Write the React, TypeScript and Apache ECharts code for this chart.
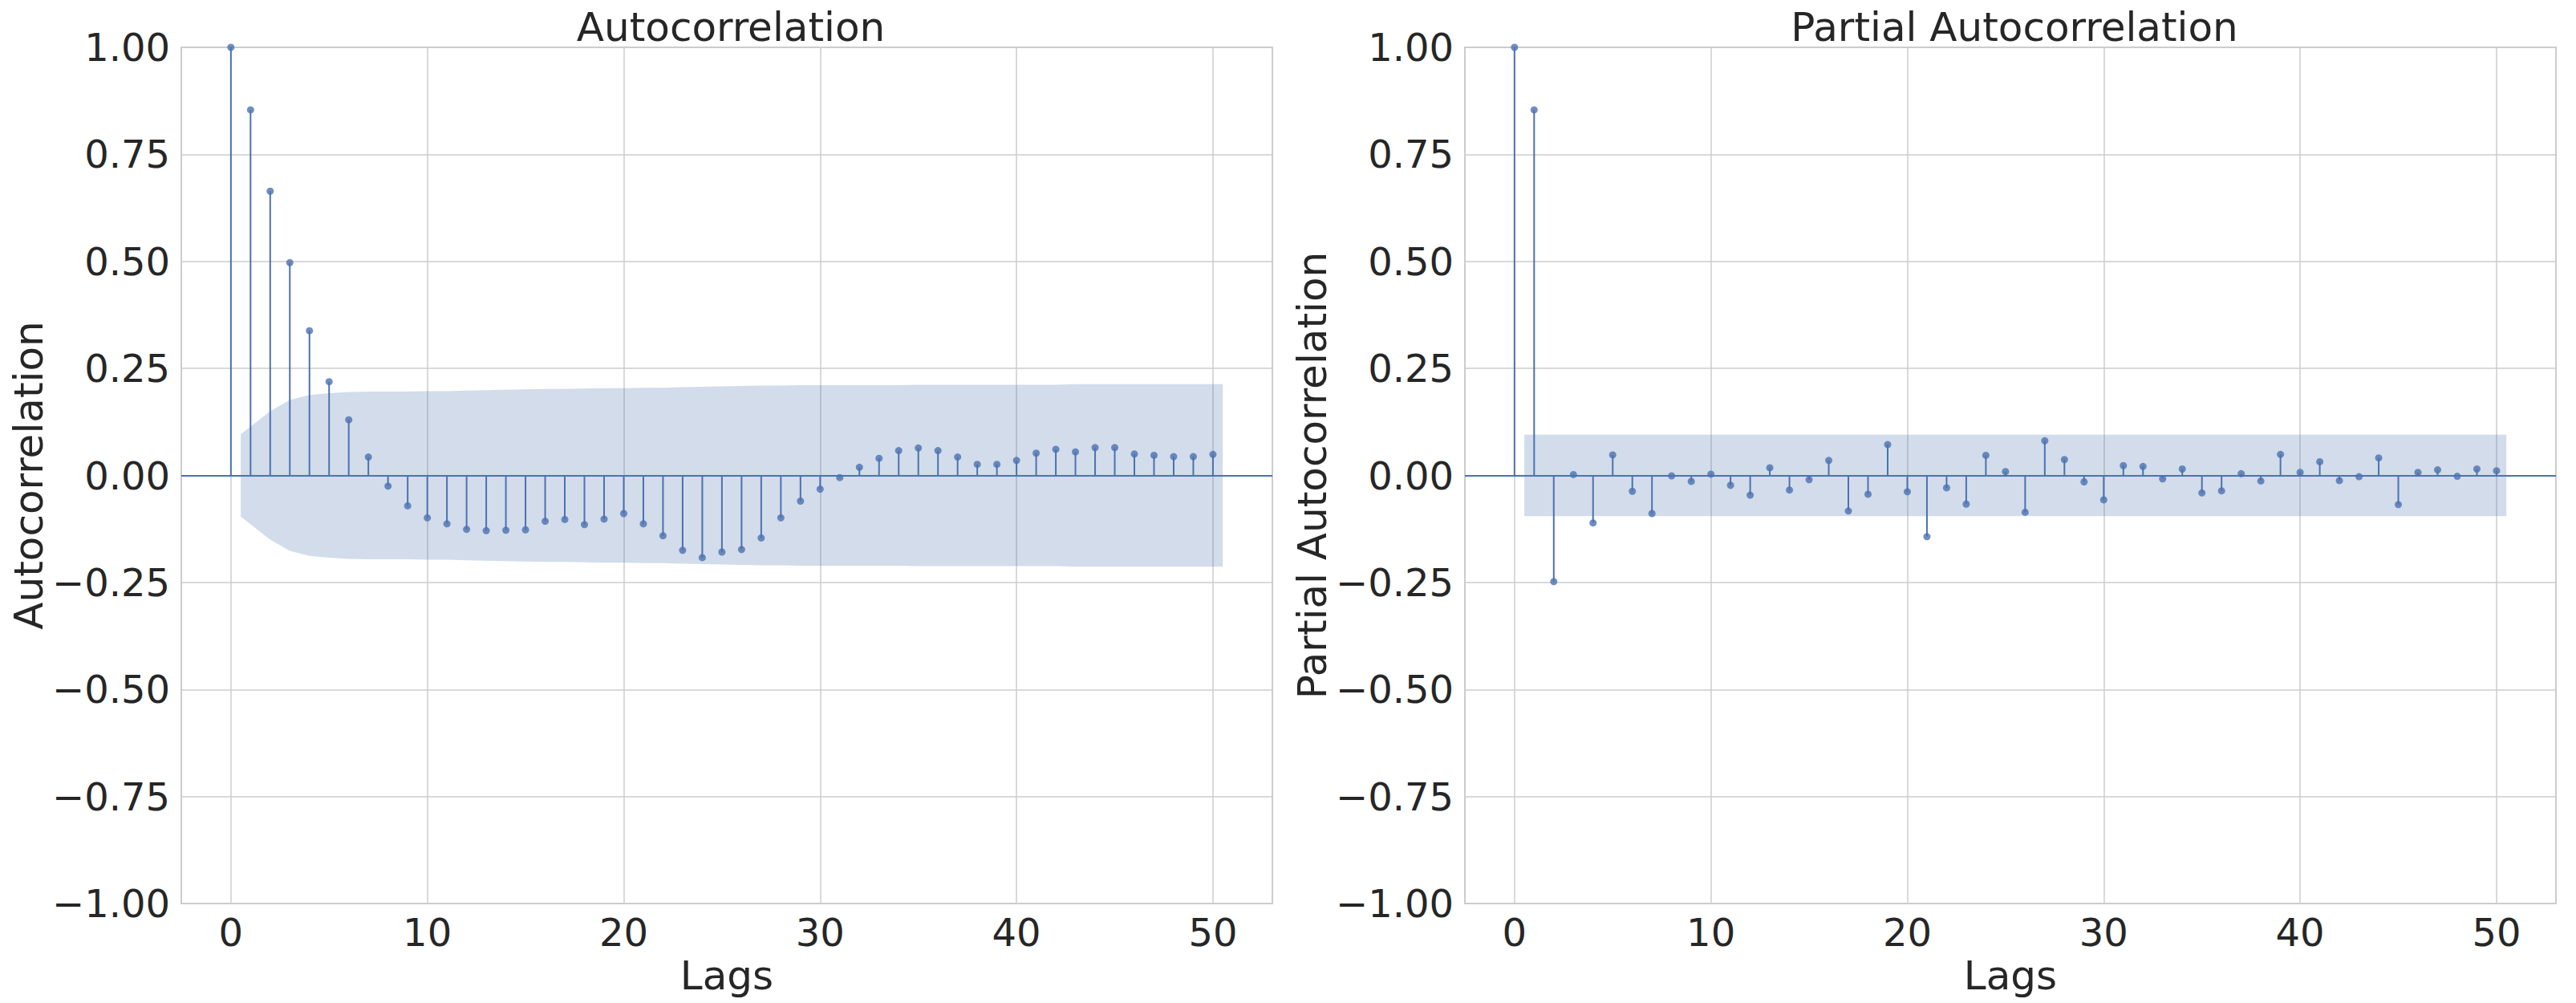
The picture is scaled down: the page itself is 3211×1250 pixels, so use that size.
import React, { useEffect, useRef } from "react";
import * as echarts from "echarts";

// ---- data ----
const lags = [0, 1, 2, 3, 4, 5, 6, 7, 8, 9, 10, 11, 12, 13, 14, 15, 16, 17, 18, 19, 20, 21, 22, 23, 24, 25, 26, 27, 28, 29, 30, 31, 32, 33, 34, 35, 36, 37, 38, 39, 40, 41, 42, 43, 44, 45, 46, 47, 48, 49, 50];

const acfValues = [1.0, 0.854, 0.664, 0.497, 0.338, 0.219, 0.130, 0.043, -0.025, -0.071, -0.099, -0.113, -0.126, -0.129, -0.128, -0.127, -0.107, -0.103, -0.115, -0.102, -0.089, -0.113, -0.141, -0.175, -0.192, -0.179, -0.173, -0.146, -0.099, -0.060, -0.032, -0.005, 0.019, 0.040, 0.058, 0.064, 0.058, 0.043, 0.026, 0.026, 0.035, 0.052, 0.061, 0.055, 0.065, 0.065, 0.050, 0.047, 0.044, 0.044, 0.049];

const pacfValues = [1.0, 0.854, -0.248, 0.002, -0.111, 0.048, -0.037, -0.089, -0.001, -0.014, 0.003, -0.023, -0.046, 0.018, -0.034, -0.010, 0.035, -0.083, -0.044, 0.072, -0.038, -0.143, -0.029, -0.067, 0.047, 0.009, -0.086, 0.081, 0.037, -0.015, -0.057, 0.023, 0.021, -0.008, 0.015, -0.041, -0.036, 0.004, -0.013, 0.049, 0.007, 0.032, -0.012, -0.003, 0.041, -0.068, 0.007, 0.013, -0.002, 0.015, 0.011];

// half-width of the 95% confidence band for lags 1..50
const acfConf = [0.096, 0.150, 0.176, 0.188, 0.192, 0.195, 0.196, 0.196, 0.196, 0.197, 0.197, 0.198, 0.199, 0.200, 0.201, 0.202, 0.202, 0.203, 0.204, 0.204, 0.205, 0.205, 0.206, 0.207, 0.208, 0.209, 0.210, 0.210, 0.211, 0.211, 0.211, 0.211, 0.211, 0.211, 0.212, 0.212, 0.212, 0.212, 0.212, 0.212, 0.212, 0.212, 0.213, 0.213, 0.213, 0.213, 0.213, 0.213, 0.213, 0.213];

const pacfConf = [0.095, 0.095, 0.095, 0.095, 0.095, 0.095, 0.095, 0.095, 0.095, 0.095, 0.095, 0.095, 0.095, 0.095, 0.095, 0.095, 0.095, 0.095, 0.095, 0.095, 0.095, 0.095, 0.095, 0.095, 0.095, 0.095, 0.095, 0.095, 0.095, 0.095, 0.095, 0.095, 0.095, 0.095, 0.095, 0.095, 0.095, 0.095, 0.095, 0.095, 0.095, 0.095, 0.095, 0.095, 0.095, 0.095, 0.095, 0.095, 0.095, 0.095];

const titles = ["Autocorrelation", "Partial Autocorrelation"];
const yNames = ["Autocorrelation", "Partial Autocorrelation"];
const xName = "Lags";
const yTicks = [-1, -0.75, -0.5, -0.25, 0, 0.25, 0.5, 0.75, 1];
const xTicks = [0, 10, 20, 30, 40, 50];

// ---- styles ----
const BLUE = "#4C72B0";
const BAND = "rgba(76,114,176,0.25)";
const GRIDC = "#cccccc";
const TEXT = "#262626";
const FONT = "DejaVu Sans";

const GRIDS = [
  { left: 226, top: 59, width: 1360, height: 1067 },
  { left: 1826, top: 59, width: 1360, height: 1067 },
];

function bandX(): number[] {
  const inner = lags.slice(1);
  return inner.map((l, i) => (i === 0 ? l - 0.5 : i === inner.length - 1 ? l + 0.5 : l));
}

function panelSeries(idx: number, values: number[], conf: number[]) {
  const bx = bandX();
  const base = { xAxisIndex: idx, yAxisIndex: idx };
  const pts = lags.map((l, i) => [l, values[i]]);
  return [
    {
      ...base,
      type: "line",
      data: bx.map((x, i) => [x, conf[i]]),
      symbol: "none",
      lineStyle: { width: 0, opacity: 0 },
      areaStyle: { color: BAND, opacity: 1 },
      silent: true,
      z: 1,
    },
    {
      ...base,
      type: "line",
      data: bx.map((x, i) => [x, -conf[i]]),
      symbol: "none",
      lineStyle: { width: 0, opacity: 0 },
      areaStyle: { color: BAND, opacity: 1 },
      silent: true,
      z: 1,
    },
    {
      ...base,
      type: "custom",
      data: pts,
      encode: { x: 0, y: 1 },
      z: 3,
      silent: true,
      renderItem: (params: any, api: any) => {
        const x = api.value(0);
        const p0 = api.coord([x, 0]);
        const p1 = api.coord([x, api.value(1)]);
        return {
          type: "line",
          shape: { x1: p0[0], y1: p0[1], x2: p1[0], y2: p1[1] },
          style: { stroke: BLUE, lineWidth: 2 },
        };
      },
      markLine: {
        silent: true,
        symbol: ["none", "none"],
        label: { show: false },
        lineStyle: { color: BLUE, width: 2, type: "solid" },
        data: [{ yAxis: 0 }],
        z: 4,
      },
    },
    {
      ...base,
      type: "scatter",
      data: pts,
      symbol: "circle",
      symbolSize: 9,
      itemStyle: { color: BLUE },
      silent: true,
      z: 5,
    },
  ];
}

function axisLabelStyle() {
  return { fontSize: 48, color: TEXT, fontFamily: FONT };
}

export default function App() {
  const ref = useRef<HTMLDivElement>(null);
  useEffect(() => {
    if (!ref.current) return;
    const chart = echarts.init(ref.current, undefined, { renderer: "svg" });
    const option: any = {
      animation: false,
      backgroundColor: "#ffffff",
      title: titles.map((t, i) => ({
        text: t,
        left: GRIDS[i].left + GRIDS[i].width / 2,
        top: 4,
        textAlign: "center",
        textStyle: { fontSize: 50, fontWeight: "normal", color: TEXT, fontFamily: FONT },
      })),
      grid: GRIDS.map((g) => ({
        ...g,
        show: true,
        borderColor: GRIDC,
        borderWidth: 2,
        backgroundColor: "transparent",
      })),
      xAxis: GRIDS.map((_, i) => ({
        gridIndex: i,
        type: "value",
        min: -2.525,
        max: 53.025,
        axisLine: { show: false },
        axisTick: { show: false },
        axisLabel: {
          ...axisLabelStyle(),
          margin: 12,
          formatter: (v: number) => (xTicks.indexOf(v) >= 0 ? String(v) : ""),
        },
        splitLine: { show: true, lineStyle: { color: GRIDC, width: 1.5 } },
        name: xName,
        nameLocation: "middle",
        nameGap: 58,
        nameTextStyle: { fontSize: 50, color: TEXT, fontFamily: FONT },
      })),
      yAxis: GRIDS.map((_, i) => ({
        gridIndex: i,
        type: "value",
        min: yTicks[0],
        max: yTicks[yTicks.length - 1],
        interval: 0.25,
        axisLine: { show: false },
        axisTick: { show: false },
        axisLabel: {
          ...axisLabelStyle(),
          margin: 14,
          formatter: (v: number) => v.toFixed(2).replace("-", "\u2212"),
        },
        splitLine: { show: true, lineStyle: { color: GRIDC, width: 1.5 } },
        name: yNames[i],
        nameLocation: "middle",
        nameRotate: 90,
        nameGap: 165,
        nameTextStyle: { fontSize: 50, color: TEXT, fontFamily: FONT },
      })),
      series: [
        ...panelSeries(0, acfValues, acfConf),
        ...panelSeries(1, pacfValues, pacfConf),
      ],
    };
    chart.setOption(option);
    return () => chart.dispose();
  }, []);
  return (
    <div
      ref={ref}
      style={{ position: "absolute", left: 0, top: 0, width: "3211px", height: "1250px" }}
    />
  );
}
